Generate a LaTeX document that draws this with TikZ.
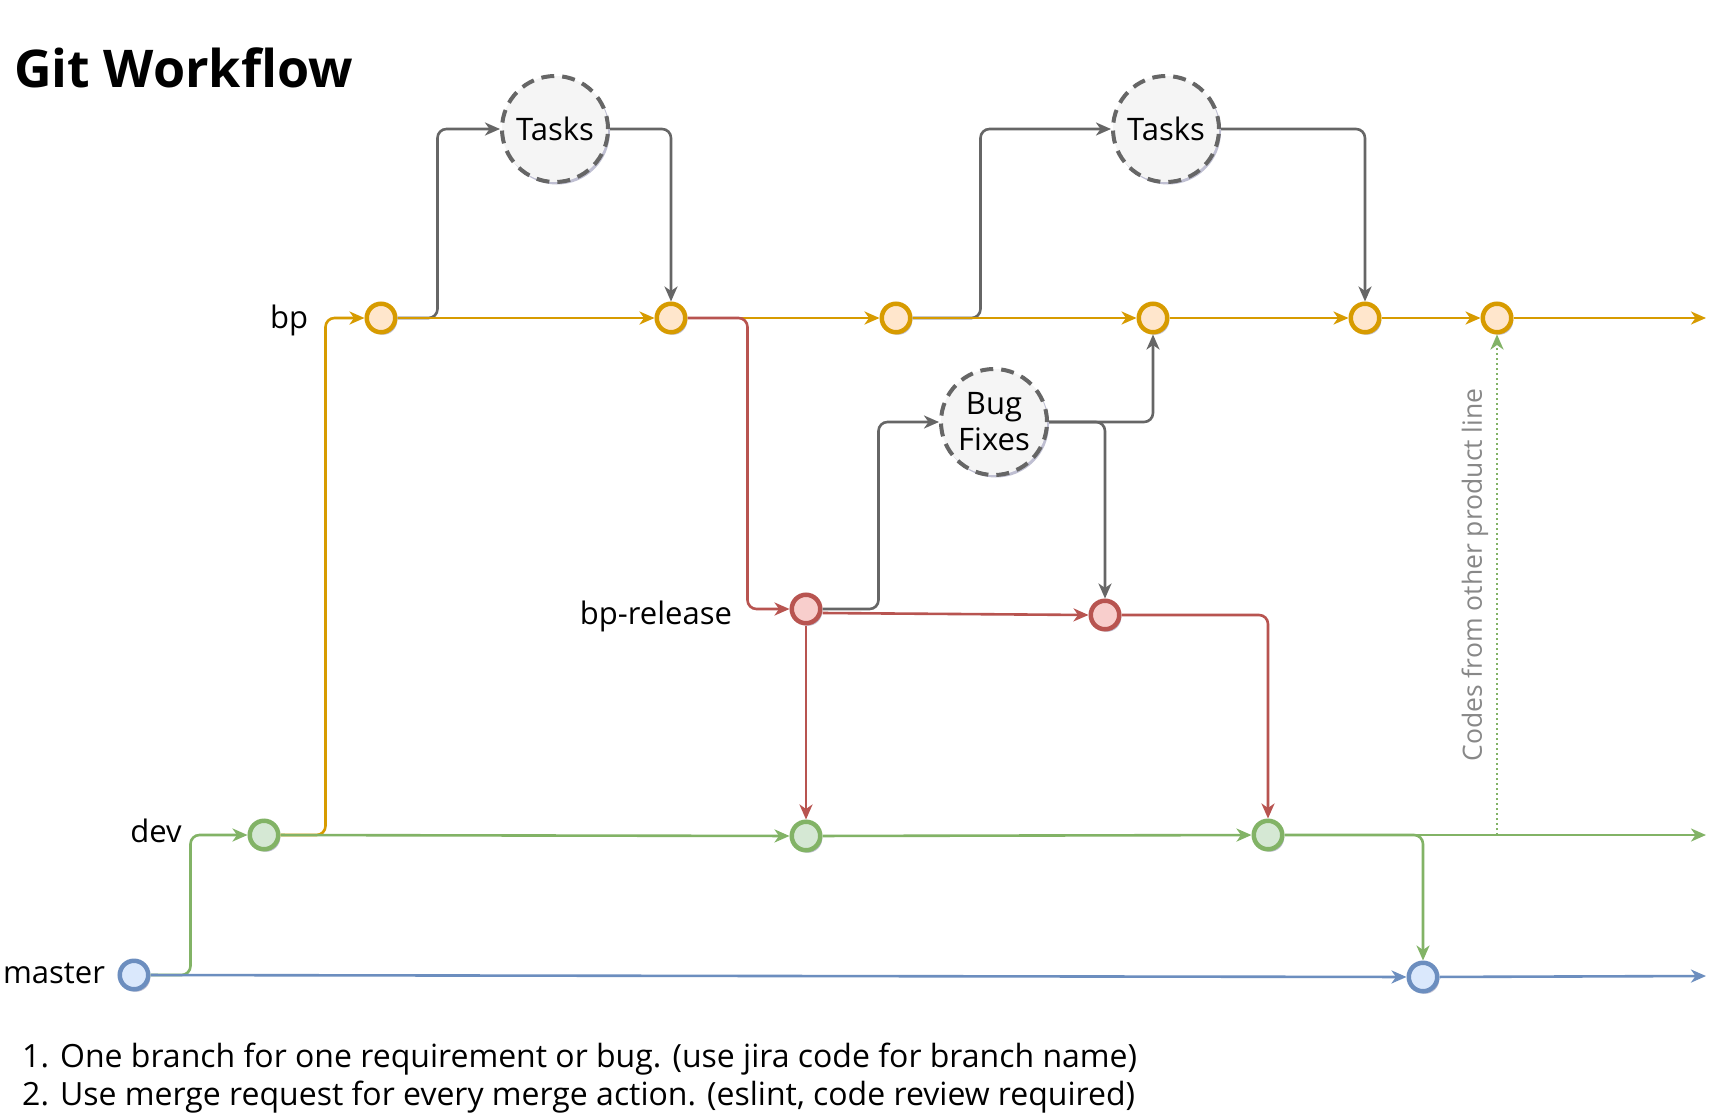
\documentclass[tikz,border=0pt]{standalone}
\usepackage{fontspec}
\setmainfont{Open Sans}
\usetikzlibrary{arrows.meta,shadows}
\definecolor{ostroke}{HTML}{D79B00}
\definecolor{ofill}{HTML}{FFE6CC}
\definecolor{rstroke}{HTML}{B85450}
\definecolor{rfill}{HTML}{F8CECC}
\definecolor{gstroke}{HTML}{82B366}
\definecolor{gfill}{HTML}{D5E8D4}
\definecolor{bstroke}{HTML}{6C8EBF}
\definecolor{bfill}{HTML}{DAE8FC}
\definecolor{kstroke}{HTML}{666666}
\definecolor{kfill}{HTML}{F5F5F5}
\definecolor{codetext}{HTML}{888888}
\tikzset{
  shad/.style={drop shadow={shadow xshift=2pt,shadow yshift=-2.5pt,opacity=0.25,fill=black!70!blue}},
  commit/.style={circle,minimum size=28.5pt,inner sep=0pt,line width=4.5pt,shad},
  ocommit/.style={commit,draw=ostroke,fill=ofill},
  rcommit/.style={commit,draw=rstroke,fill=rfill},
  gcommit/.style={commit,draw=gstroke,fill=gfill},
  bcommit/.style={commit,draw=bstroke,fill=bfill},
  work/.style={circle,minimum size=106pt,inner sep=0pt,line width=4pt,draw=kstroke,fill=kfill,
    dash pattern=on 13pt off 8pt,shad,font=\fontsize{31}{36}\selectfont,align=center},
  edge/.style={line width=2.6pt,rounded corners=9pt,-{Stealth[length=15pt,width=13pt,inset=4.5pt]}},
  oedge/.style={edge,draw=ostroke},
  redge/.style={edge,draw=rstroke},
  gedge/.style={edge,draw=gstroke},
  bedge/.style={edge,draw=bstroke},
  kedge/.style={edge,draw=kstroke},
  lbl/.style={font=\fontsize{31}{36}\selectfont,inner sep=0pt},
  note/.style={anchor=west,inner sep=0pt,font=\fontsize{32}{36}\selectfont},
}
\begin{document}
\begin{tikzpicture}[x=1pt,y=-1pt]
\useasboundingbox[fill=white] (0,0) rectangle (1724,1119);

% title
\node[anchor=west,inner sep=0pt,font=\fontsize{52}{60}\selectfont\bfseries] (title) at (14,68) {Git Workflow};

% work circles
\node[work] (t1) at (555,129) {Tasks};
\node[work] (t2) at (1166,129) {Tasks};
\node[work] (bug) at (994,422) {Bug\\Fixes};

% commits
\node[ocommit] (b1) at (381,318) {};
\node[ocommit] (b2) at (671,318) {};
\node[ocommit] (b3) at (896,318) {};
\node[ocommit] (b4) at (1153,318) {};
\node[ocommit] (b5) at (1365,318) {};
\node[ocommit] (b6) at (1497,318) {};
\node[rcommit] (r1) at (806,609) {};
\node[rcommit] (r2) at (1105,615) {};
\node[gcommit] (d1) at (264,835) {};
\node[gcommit] (d2) at (806,836) {};
\node[gcommit] (d3) at (1268,835) {};
\node[bcommit] (m1) at (134,975) {};
\node[bcommit] (m2) at (1423,977) {};

\coordinate (bend) at (1706,318);
\coordinate (dend) at (1706,835);
\coordinate (mend) at (1706,976);
\coordinate (dot) at (1497,835);

% labels
\node[lbl] (lbp) at (289,320) {bp};
\node[lbl] (lrel) at (656,616) {bp-release};
\node[lbl] (ldev) at (156,831) {dev};
\node[lbl] (lmaster) at (54,973) {master};

% gray edges (tasks / bug fixes)
\draw[kedge] (b1.east) -- ++(40,0) |- (t1.west);
\draw[kedge] (t1.east) -| (b2.north);
\draw[kedge] (b3.east) -- ++(68,0) |- (t2.west);
\draw[kedge] (t2.east) -| (b5.north);
\draw[kedge] (r1.east) -- ++(56,0) |- (bug.west);
\draw[kedge] (bug.east) -| (b4.south);
\draw[kedge] (bug.east) -| (r2.north);

% bp line
\draw[oedge] (d1.east) -- ++(45,0) |- (b1.west);
\draw[oedge] (b1) -- (b2);
\draw[oedge] (b2) -- (b3);
\draw[oedge] (b3) -- (b4);
\draw[oedge] (b4) -- (b5);
\draw[oedge] (b5) -- (b6);
\draw[oedge] (b6) -- (bend);

% bp-release
\draw[redge] (b2.east) -- ++(60,0) |- (r1.west);
\draw[redge] ([yshift=-4pt]r1.east) -- (r2.west);
\draw[redge] (r1.south) -- (d2.north);
\draw[redge] (r2.east) -| (d3.north);

% dev
\draw[gedge] (m1.east) -- ++(40,0) |- (d1.west);
\draw[gedge] (d1) -- (d2);
\draw[gedge] (d2) -- (d3);
\draw[gedge] (d3) -- (dend);
\draw[gedge] (d3.east) -| (m2.north);
\draw[gedge,dash pattern=on 2.4pt off 2.6pt] (dot) -- (b6.south);
\node[rotate=90,text=codetext,font=\fontsize{26.5}{30}\selectfont,inner sep=0pt] (codes) at (1475,575) {Codes from other product line};

% master
\draw[bedge] (m1) -- (m2);
\draw[bedge] (m2) -- (mend);

% notes
\node[note] (note1) at (22,1059) {1. One branch for one requirement or bug. (use jira code for branch name)};
\node[note] (note2) at (22,1097) {2. Use merge request for every merge action. (eslint, code review required)};
\end{tikzpicture}
\end{document}
